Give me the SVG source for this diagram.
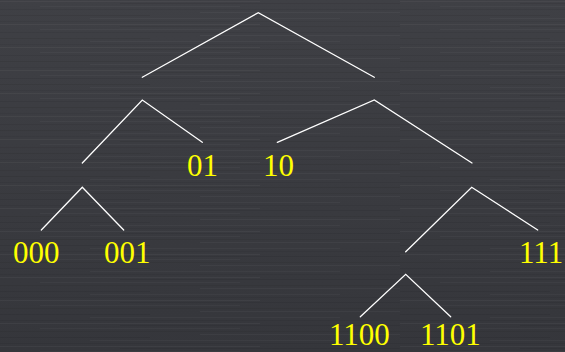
<svg xmlns="http://www.w3.org/2000/svg" width="565" height="352" viewBox="0 0 565 352">
<defs>
<linearGradient id="bg" x1="0" y1="0" x2="0" y2="1">
<stop offset="0" stop-color="#3f4045"/>
<stop offset="0.5" stop-color="#3a3b40"/>
<stop offset="1" stop-color="#35363b"/>
</linearGradient>
<pattern id="brush" width="400" height="23" patternUnits="userSpaceOnUse">
<rect x="0" y="1" width="260" height="1" fill="#ffffff" opacity="0.04"/>
<rect x="120" y="3" width="280" height="1" fill="#000000" opacity="0.07"/>
<rect x="40" y="6" width="200" height="1" fill="#ffffff" opacity="0.03"/>
<rect x="0" y="9" width="400" height="1" fill="#000000" opacity="0.06"/>
<rect x="200" y="12" width="200" height="1" fill="#ffffff" opacity="0.035"/>
<rect x="0" y="15" width="150" height="1" fill="#000000" opacity="0.07"/>
<rect x="90" y="18" width="250" height="1" fill="#ffffff" opacity="0.03"/>
<rect x="0" y="21" width="400" height="1" fill="#000000" opacity="0.05"/>
</pattern>
<style>
.e{stroke:#ffffff;stroke-width:1.3;fill:none;stroke-linecap:round;}
.t{font-family:"Liberation Serif","Times New Roman",serif;font-size:31px;fill:#ffff00;}
</style>
</defs>
<rect width="565" height="352" fill="url(#bg)"/>
<rect width="565" height="352" fill="url(#brush)"/>
<g id="connectors">
<polyline class="e" points="142.3,77.3 258.3,12.7 374.3,77.3"/>
<polyline class="e" points="82.3,163 142.3,100 202.3,142.3"/>
<polyline class="e" points="277.3,142.3 374.3,100 472,163"/>
<polyline class="e" points="41.3,230 82.3,187.3 123.7,230"/>
<polyline class="e" points="405.7,251.7 471.7,187.3 537.7,230"/>
<polyline class="e" points="360.3,316.7 405.7,274.3 450.7,316.7"/>
</g>
<g id="leaf-01"><text class="t" x="187" y="175.7">01</text></g>
<g id="leaf-10"><text class="t" x="263" y="175.7">10</text></g>
<g id="leaf-000"><text class="t" x="13" y="262.7">000</text></g>
<g id="leaf-001"><text class="t" x="104" y="262.7">001</text></g>
<g id="leaf-111"><text class="t" x="519" y="262.7">111</text></g>
<g id="leaf-1100"><text class="t" x="329" y="345">1100</text></g>
<g id="leaf-1101"><text class="t" x="420" y="345">1101</text></g>
</svg>
